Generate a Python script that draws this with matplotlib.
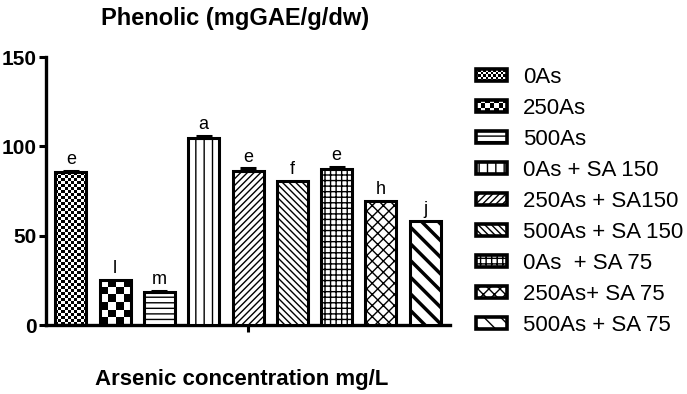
import numpy as np
import matplotlib.pyplot as plt
from matplotlib.patches import Rectangle
from matplotlib.legend_handler import HandlerBase
from matplotlib.image import BboxImage
from matplotlib.transforms import Bbox, TransformedBbox

plt.rcParams['font.family'] = ['Liberation Sans', 'DejaVu Sans']

# data
groups = ['0As', '250As', '500As', '0As + SA 150', '250As + SA150',
          '500As + SA 150', '0As  + SA 75', '250As+ SA 75', '500As + SA 75']
phenolic = [85.6, 25.2, 18.5, 104.8, 86.2, 80.6, 87.3, 69.4, 58.2]
errors = [0.8, 0.0, 0.5, 1.2, 1.5, 0.0, 1.3, 0.0, 0.0]
letters = ['e', 'l', 'm', 'a', 'e', 'f', 'e', 'h', 'j']
yticks = [0, 50, 100, 150]

# styling per bar: hatch string, or ('checker', square size px)
styles = [('checker', 3), ('checker', 8), '---', '||', '/////', '\\\\\\\\\\',
          '+++', 'xxx', '\\\\']


def checker(nx, ny):
    return (np.indices((ny, nx)).sum(axis=0) % 2).astype(float)


class CheckerHandler(HandlerBase):
    def __init__(self, sq):
        super().__init__()
        self.sq = sq

    def create_artists(self, legend, orig_handle, xdescent, ydescent,
                       width, height, fontsize, trans):
        bb = TransformedBbox(Bbox.from_bounds(-xdescent, -ydescent, width, height), trans)
        img = BboxImage(bb, cmap='gray', interpolation='nearest')
        n = 3 if self.sq > 4 else 6
        img.set_data(checker(n * 2 + 1, n))
        rect = Rectangle((-xdescent, -ydescent), width, height, facecolor='none',
                         edgecolor='black', linewidth=2.6, transform=trans)
        return [img, rect]


fig = plt.figure(figsize=(6.87, 3.94), dpi=100)
ax = fig.add_axes([0.067, 0.175, 0.588, 0.68])

x = np.arange(len(groups))
px_per_unit = 0.68 * 394 / 150
handles = []
handler_map = {}
for i, (xi, v, st) in enumerate(zip(x, phenolic, styles)):
    if isinstance(st, tuple):
        b = ax.bar(xi, v, width=0.7, facecolor='none', edgecolor='black',
                   linewidth=2.2, zorder=3)[0]
        sq = st[1]
        nx = max(int(round(31 / sq)), 1)
        ny = max(int(round(v * px_per_unit / sq)), 1)
        im = ax.imshow(checker(nx, ny), cmap='gray', interpolation='nearest',
                       extent=(xi - 0.35, xi + 0.35, 0, v), aspect='auto', zorder=2,
                       origin='lower')
        im.set_clip_path(b)
        h = Rectangle((0, 0), 1, 1, label=groups[i])
        handler_map[h] = CheckerHandler(sq)
    else:
        b = ax.bar(xi, v, width=0.7, facecolor='white', edgecolor='black',
                   linewidth=2.2, hatch=st, zorder=3)[0]
        h = Rectangle((0, 0), 1, 1, facecolor='white', edgecolor='black',
                      linewidth=2.6, hatch=st, label=groups[i])
        if st == '\\\\':
            for p in (b, h):
                try:
                    p.set_hatch_linewidth(2.5)
                except AttributeError:
                    pass
    handles.append(h)
    if errors[i] > 0:
        ax.errorbar(xi, v, yerr=[[0], [errors[i]]], fmt='none', ecolor='black',
                    elinewidth=2, capsize=6, capthick=2.2, zorder=4)
    ax.annotate(letters[i], (xi, v + errors[i]), xytext=(0, 2),
                textcoords='offset points', ha='center', va='bottom', fontsize=13)

ax.set_xlim(-0.56, 8.56)
ax.set_ylim(0, 150)
ax.set_yticks(yticks)
ax.set_xticks([4])
ax.set_xticklabels([''])
ax.spines['top'].set_visible(False)
ax.spines['right'].set_visible(False)
ax.spines['left'].set_linewidth(2.4)
ax.spines['bottom'].set_linewidth(2.4)
ax.tick_params(axis='both', width=2.2, length=5, direction='out', pad=2)
for lab in ax.get_yticklabels():
    lab.set_fontweight('bold')
    lab.set_fontsize(15)

fig.text(235 / 687, 1 - 18 / 394, 'Phenolic (mgGAE/g/dw)', ha='center', va='center',
         fontsize=17, fontweight='bold')
fig.text(242 / 687, 1 - 380 / 394, 'Arsenic concentration mg/L', ha='center',
         va='center', fontsize=16, fontweight='bold')

fig.legend(handles=handles, handler_map=handler_map, loc='upper left',
           bbox_to_anchor=(476 / 687, 1 - 67 / 394), frameon=False, fontsize=16,
           handlelength=1.4, handleheight=0.5, handletextpad=0.7, labelspacing=0.45,
           borderaxespad=0, borderpad=0)

fig.savefig('out.png', dpi=100)
